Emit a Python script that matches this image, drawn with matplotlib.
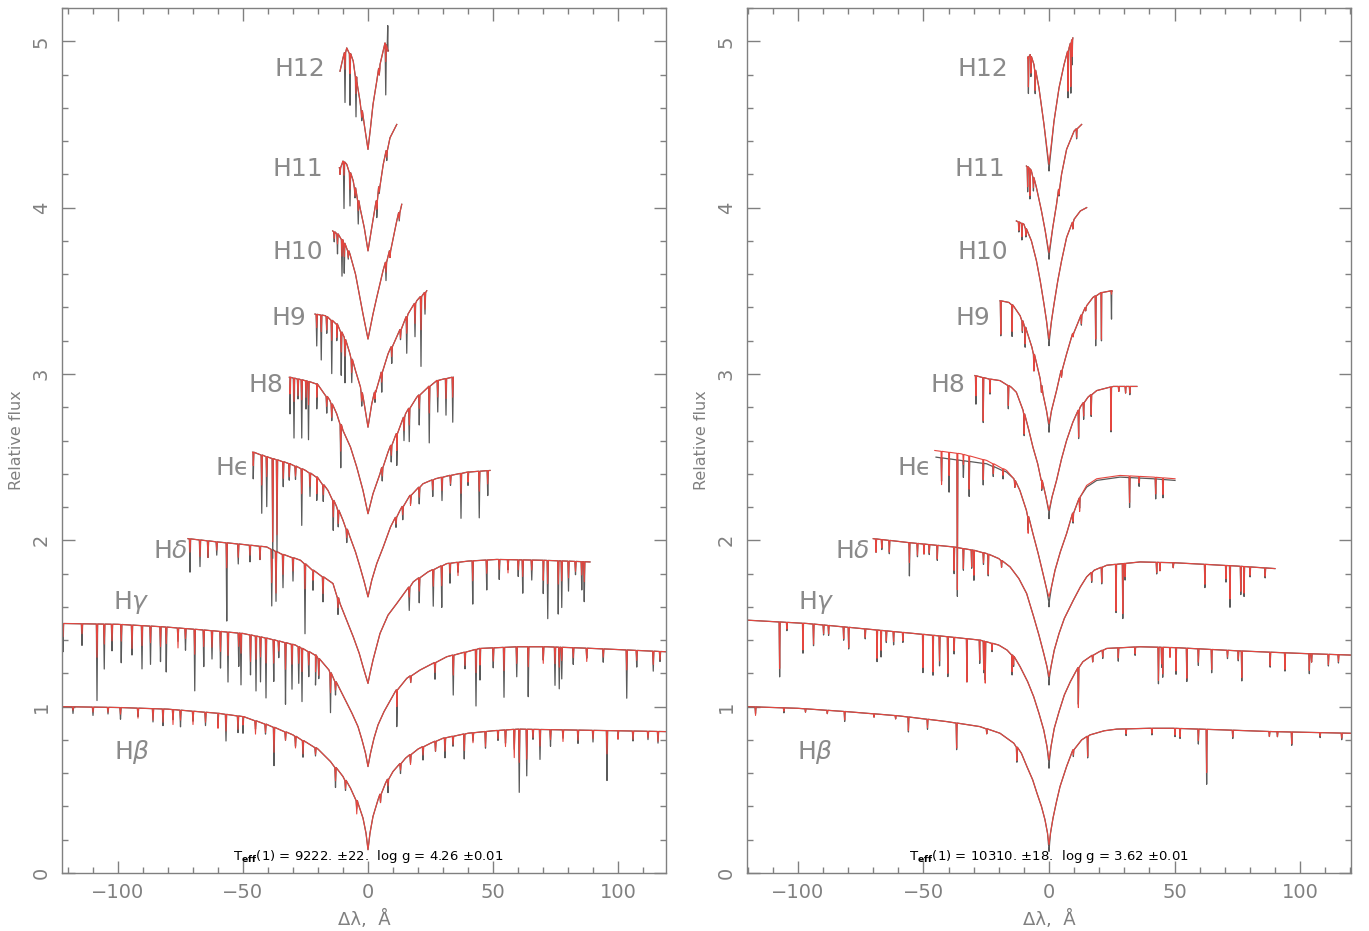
import numpy as np
import matplotlib
matplotlib.use('Agg')
import matplotlib.pyplot as plt
from matplotlib.ticker import MultipleLocator

plt.rcParams['mathtext.fontset'] = 'dejavusans'

# ---- left star: line profiles (x = delta lambda in A, y = relative flux) ----
L_HB_ENV = [(-122.4, 1.00), (-100, 0.995), (-80, 0.985), (-60, 0.96), (-50, 0.94), (-40, 0.89),
            (-30, 0.83), (-20, 0.745), (-15, 0.67), (-10, 0.58), (-7, 0.51), (-4, 0.42), (-2, 0.33),
            (-0.8, 0.24), (0, 0.14), (0.8, 0.24), (2, 0.34), (4, 0.44), (7, 0.54), (10, 0.61),
            (15, 0.69), (20, 0.745), (25, 0.78), (30, 0.81), (40, 0.84), (50, 0.855), (60, 0.865),
            (80, 0.86), (100, 0.855), (119.2, 0.85)]
L_HB_DIPS = [(-118, 0.04, 0.02), (-110, 0.05, 0.03), (-104, 0.04, 0.03), (-99, 0.07, 0.04),
             (-92, 0.05, 0.06), (-86, 0.08, 0.07), (-82, 0.10, 0.08), (-78, 0.06, 0.09),
             (-75, 0.10, 0.06), (-70, 0.06, 0.08), (-65, 0.08, 0.06), (-60, 0.07, 0.09),
             (-56.8, 0.16, 0.10), (-52, 0.10, 0.08), (-50, 0.10, 0.05), (-45, 0.05, 0.08),
             (-41, 0.06, 0.05), (-37.6, 0.23, 0.15), (-33, 0.05, 0.05), (-29, 0.06, 0.07),
             (-26, 0.10, 0.08), (-21, 0.05, 0.04), (-13, 0.12, 0.08), (-9, 0.06, 0.05),
             (-4.5, 0.05, 0.08), (5, 0.05, 0.05), (8, 0.08, 0.04), (13, 0.06, 0.04), (17, 0.05, 0.06),
             (22, 0.08, 0.05), (27, 0.06, 0.06), (30.8, 0.12, 0.08), (34, 0.06, 0.05),
             (38.5, 0.15, 0.10), (42, 0.05, 0.06), (47, 0.10, 0.09), (52, 0.06, 0.05),
             (55, 0.08, 0.10), (58.5, 0.12, 0.17), (60.5, 0.38, 0.20), (63.5, 0.28, 0.18),
             (66, 0.06, 0.05), (68.8, 0.18, 0.10), (73, 0.10, 0.06), (78, 0.05, 0.07),
             (84, 0.08, 0.06), (90, 0.07, 0.05), (95.6, 0.30, 0.14), (100, 0.05, 0.05),
             (106, 0.06, 0.05), (112, 0.05, 0.04), (116, 0.07, 0.06)]

L_HG_ENV = [(-122.4, 1.50), (-100, 1.495), (-82, 1.48), (-65, 1.46), (-50, 1.44), (-40, 1.41),
            (-29, 1.37), (-21, 1.31), (-15.6, 1.22), (-10.4, 1.08), (-6.4, 0.96), (-4, 0.88),
            (-2.4, 0.80), (-1, 0.72), (0, 0.64), (1, 0.72), (2.4, 0.81), (4, 0.89), (6.4, 0.97),
            (11.5, 1.10), (15.5, 1.17), (20.8, 1.22), (31.5, 1.30), (44.8, 1.35), (60, 1.36),
            (71.5, 1.36), (90, 1.35), (119.2, 1.33)]
L_HG_DIPS = [(-122, 0.17, 0.08), (-114.4, 0.13, 0.06), (-108.4, 0.46, 0.20), (-105.5, 0.27, 0.12),
             (-102.4, 0.16, 0.10), (-98.7, 0.23, 0.10), (-94.4, 0.18, 0.14), (-90.4, 0.26, 0.12),
             (-87, 0.23, 0.10), (-83, 0.21, 0.12), (-80.7, 0.27, 0.10), (-76, 0.08, 0.12),
             (-73, 0.13, 0.06), (-69.3, 0.37, 0.15), (-65.7, 0.22, 0.10), (-62.4, 0.17, 0.10),
             (-59, 0.22, 0.12), (-56, 0.30, 0.14), (-51.7, 0.20, 0.08), (-50.8, 0.31, 0.12),
             (-47, 0.24, 0.16), (-44.8, 0.33, 0.14), (-43, 0.27, 0.12), (-40.8, 0.36, 0.15),
             (-37.7, 0.25, 0.14), (-35.7, 0.10, 0.06), (-33, 0.37, 0.16), (-30.4, 0.27, 0.12),
             (-27.7, 0.22, 0.10), (-26.4, 0.32, 0.14), (-23.7, 0.15, 0.08), (-21, 0.18, 0.10),
             (-19.7, 0.12, 0.10), (-15, 0.24, 0.12), (-13, 0.08, 0.05), (11.5, 0.22, 0.10),
             (17.1, 0.04, 0.04), (26.8, 0.10, 0.06), (34.1, 0.24, 0.12), (38.8, 0.10, 0.08),
             (43.2, 0.34, 0.14), (44.8, 0.19, 0.10), (50.1, 0.12, 0.08), (54.4, 0.30, 0.14),
             (59.5, 0.18, 0.10), (64.1, 0.30, 0.12), (70.1, 0.08, 0.10), (74.8, 0.23, 0.10),
             (76.5, 0.25, 0.12), (77.5, 0.19, 0.08), (82.1, 0.10, 0.06), (87.5, 0.06, 0.08),
             (94.1, 0.08, 0.05), (103.5, 0.29, 0.12), (107.5, 0.10, 0.06), (114.1, 0.12, 0.08),
             (116.8, 0.06, 0.05)]

L_HD_ENV = [(-72, 2.01), (-60, 1.99), (-50, 1.975), (-40.5, 1.96), (-35, 1.92), (-27, 1.88),
            (-22, 1.82), (-14, 1.74), (-11.2, 1.62), (-8, 1.50), (-5.9, 1.42), (-3.5, 1.32),
            (-2, 1.24), (-0.8, 1.18), (0, 1.14), (0.8, 1.20), (2, 1.28), (4.8, 1.44), (8, 1.55),
            (11.5, 1.62), (18.1, 1.75), (24, 1.81), (31.5, 1.86), (40, 1.875), (51.5, 1.885),
            (70, 1.88), (88.8, 1.87)]
L_HD_DIPS = [(-71.2, 0.20, 0.08), (-67.2, 0.16, 0.10), (-64, 0.10, 0.10), (-60.5, 0.08, 0.05),
             (-56.5, 0.47, 0.15), (-51.9, 0.12, 0.08), (-47.2, 0.10, 0.06), (-43.2, 0.08, 0.08),
             (-38.5, 0.34, 0.20), (-36.8, 0.30, 0.25), (-34, 0.20, 0.12), (-30, 0.14, 0.08),
             (-25.2, 0.42, 0.15), (-22, 0.12, 0.06), (-18, 0.15, 0.10), (-12, 0.10, 0.06),
             (16.5, 0.14, 0.06), (20.5, 0.15, 0.08), (26.1, 0.22, 0.10), (29.5, 0.25, 0.12),
             (32.8, 0.12, 0.06), (36, 0.06, 0.08), (41.9, 0.26, 0.12), (47.5, 0.18, 0.08),
             (52.5, 0.12, 0.06), (56, 0.06, 0.08), (60.1, 0.10, 0.06), (61.9, 0.20, 0.10),
             (65.5, 0.12, 0.06), (70.1, 0.20, 0.12), (71.9, 0.35, 0.14), (76.1, 0.32, 0.14),
             (77.5, 0.28, 0.12), (80.2, 0.18, 0.10), (83, 0.08, 0.06), (85.5, 0.17, 0.08),
             (86.5, 0.24, 0.12)]

L_HE_ENV = [(-46, 2.53), (-40, 2.50), (-31.2, 2.46), (-25, 2.42), (-20.5, 2.38), (-16, 2.30),
            (-12.5, 2.20), (-10, 2.12), (-7.2, 2.02), (-5, 1.93), (-3.2, 1.84), (-1.5, 1.75),
            (0, 1.66), (1.5, 1.76), (3.5, 1.86), (6.1, 1.96), (9, 2.08), (12.8, 2.18), (17, 2.27),
            (22, 2.34), (27, 2.37), (32.8, 2.39), (40, 2.41), (48.8, 2.42)]
L_HE_DIPS = [(-45.9, 0.16, 0.08), (-42.5, 0.35, 0.18), (-40.5, 0.30, 0.12), (-38.1, 0.60, 0.50),
             (-36.4, 0.55, 0.45), (-33.9, 0.15, 0.10), (-31.5, 0.10, 0.08), (-29, 0.08, 0.06),
             (-26.5, 0.34, 0.15), (-23.2, 0.14, 0.08), (-20.5, 0.14, 0.10), (-17.9, 0.10, 0.06),
             (-13.9, 0.18, 0.10), (-11.9, 0.10, 0.08), (-8.5, 0.08, 0.05), (11.2, 0.06, 0.04),
             (13.9, 0.08, 0.05), (17, 0.05, 0.06), (20.5, 0.10, 0.06), (25.9, 0.10, 0.06),
             (29.6, 0.14, 0.08), (33, 0.06, 0.05), (37.2, 0.27, 0.12), (40, 0.08, 0.06),
             (44.5, 0.28, 0.12), (47.9, 0.15, 0.08)]

L_H8_ENV = [(-31.2, 2.98), (-25, 2.96), (-20.5, 2.94), (-15.2, 2.84), (-12.5, 2.76), (-10, 2.66),
            (-7, 2.56), (-4.5, 2.44), (-2, 2.30), (0, 2.16), (2, 2.28), (4.8, 2.40), (8, 2.53),
            (11.5, 2.64), (15, 2.76), (19.5, 2.86), (24, 2.92), (27.5, 2.96), (33.5, 2.98)]
L_H8_DIPS = [(-31.2, 0.22, 0.10), (-29.6, 0.36, 0.14), (-28, 0.12, 0.10), (-26.5, 0.35, 0.12),
             (-24.8, 0.17, 0.10), (-23.8, 0.35, 0.14), (-20.5, 0.15, 0.08), (-16.5, 0.10, 0.06),
             (-14.5, 0.10, 0.08), (-10.9, 0.26, 0.16), (5.7, 0.08, 0.05), (9.3, 0.10, 0.06),
             (11.5, 0.19, 0.10), (14.4, 0.14, 0.08), (16.5, 0.20, 0.10), (20.5, 0.18, 0.08),
             (24.5, 0.34, 0.16), (27.9, 0.19, 0.10), (31.2, 0.22, 0.12), (33.9, 0.27, 0.12)]

L_H9_ENV = [(-21.2, 3.36), (-17, 3.35), (-12.5, 3.30), (-9.5, 3.22), (-7.2, 3.12), (-5, 3.02),
            (-3, 2.92), (-1.5, 2.82), (0, 2.68), (1.5, 2.82), (3, 2.90), (4.8, 2.98), (8, 3.12),
            (12.8, 3.26), (16, 3.36), (19.5, 3.44), (23.5, 3.50)]
L_H9_DIPS = [(-20.5, 0.19, 0.08), (-18.7, 0.27, 0.10), (-16.5, 0.10, 0.08), (-14.5, 0.32, 0.12),
             (-12.5, 0.10, 0.08), (-10.7, 0.26, 0.12), (-9.2, 0.26, 0.10), (-6.5, 0.14, 0.08),
             (-2.5, 0.08, 0.05), (2.8, 0.06, 0.04), (5.5, 0.12, 0.06), (9.5, 0.10, 0.06),
             (13, 0.06, 0.05), (15.5, 0.22, 0.10), (18.8, 0.20, 0.12), (21.2, 0.42, 0.20),
             (22.8, 0.13, 0.10)]

L_H10_ENV = [(-14.1, 3.86), (-12, 3.84), (-10, 3.80), (-7.2, 3.72), (-5, 3.60), (-3.5, 3.48),
             (-2, 3.36), (0, 3.21), (2, 3.36), (3.5, 3.46), (6, 3.62), (8.8, 3.74), (11.5, 3.92),
             (13.5, 4.02)]
L_H10_DIPS = [(-13.5, 0.06, 0.04), (-12.2, 0.12, 0.06), (-10.4, 0.22, 0.10), (-9.5, 0.18, 0.08),
              (-7.9, 0.05, 0.04), (7.2, 0.11, 0.06), (8.8, 0.04, 0.04), (12.5, 0.05, 0.04)]

L_H11_ENV = [(-11.2, 4.24), (-10, 4.28), (-8.5, 4.26), (-5.9, 4.16), (-3.2, 4.00), (-1.5, 3.88),
             (0, 3.74), (1.5, 3.88), (3.5, 4.04), (6.1, 4.26), (8.8, 4.42), (11.5, 4.50)]
L_H11_DIPS = [(-11.2, 0.04, 0.04), (-9.6, 0.28, 0.08), (-7.2, 0.20, 0.10), (-5.2, 0.06, 0.05),
              (-3.9, 0.14, 0.06), (3.5, 0.10, 0.05), (4.5, 0.04, 0.03), (7.5, 0.06, 0.04)]

L_H12_ENV = [(-11.2, 4.82), (-10, 4.90), (-8.5, 4.96), (-7, 4.92), (-5.9, 4.88), (-4.5, 4.76),
             (-3.2, 4.64), (-1.5, 4.50), (0, 4.35), (1, 4.48), (2, 4.62), (3.5, 4.76), (4.8, 4.86),
             (6.8, 4.99), (8, 4.94)]
L_H12_DIPS = [(-9.2, 0.30, 0.10), (-7.2, 0.31, 0.12), (-4.8, 0.24, 0.10), (-2.5, 0.06, 0.04),
              (4.5, 0.04, 0.04), (7.1, 0.30, 0.10), (7.9, -0.15, 0.0)]

# ---- right star ----
R_HB_ENV = [(-120.3, 1.00), (-100, 0.99), (-80.5, 0.97), (-60, 0.945), (-40.6, 0.91), (-27.5, 0.88),
            (-19.5, 0.84), (-14, 0.78), (-11, 0.72), (-8.8, 0.64), (-6.5, 0.56), (-4.8, 0.48),
            (-3, 0.40), (-1.6, 0.32), (-0.6, 0.24), (0, 0.17), (0.6, 0.24), (1.6, 0.33), (3, 0.43),
            (4.4, 0.52), (7, 0.64), (9.7, 0.74), (13, 0.80), (16.3, 0.83), (22, 0.855), (27, 0.865),
            (40, 0.87), (49.5, 0.87), (70, 0.86), (89, 0.85), (120.3, 0.84)]
R_HB_DIPS = [(-116.9, 0.04, 0.05), (-105.6, 0.03, 0.02), (-97, 0.02, 0.02), (-88.3, 0.02, 0.02),
             (-81.4, 0.06, 0.05), (-69.7, 0.02, 0.02), (-61.1, 0.02, 0.02), (-56, 0.09, 0.08),
             (-48.4, 0.06, 0.05), (-36.8, 0.16, 0.15), (-24.8, 0.03, 0.03), (-12.8, 0.09, 0.08),
             (0, 0.04, 0.0), (9.7, 0.04, 0.03), (15.4, 0.13, 0.12), (30.7, 0.04, 0.03),
             (41, 0.04, 0.03), (50.2, 0.05, 0.04), (52.2, 0.06, 0.05), (59.5, 0.09, 0.07),
             (62.8, 0.33, 0.26), (73.2, 0.05, 0.04), (87.8, 0.03, 0.03), (91, 0.03, 0.03),
             (96.7, 0.08, 0.07), (108, 0.03, 0.02), (116.6, 0.04, 0.03)]

R_HG_ENV = [(-120.3, 1.52), (-96.4, 1.50), (-75, 1.47), (-53.9, 1.44), (-40, 1.42), (-27.5, 1.40),
            (-20, 1.37), (-16.7, 1.34), (-14, 1.30), (-11.5, 1.24), (-8.5, 1.15), (-6.1, 1.06),
            (-4, 0.96), (-2.1, 0.86), (-0.8, 0.76), (0, 0.68), (0.8, 0.76), (2.1, 0.87), (4, 0.97),
            (6.1, 1.07), (8.5, 1.15), (11, 1.22), (13.5, 1.27), (16.3, 1.30), (20, 1.33),
            (23, 1.35), (36.3, 1.36), (50, 1.355), (76, 1.335), (100, 1.32), (120.3, 1.31)]
R_HG_DIPS = [(-107.3, 0.33, 0.28), (-104.4, 0.05, 0.04), (-98, 0.18, 0.16), (-93.8, 0.13, 0.12),
             (-89.8, 0.06, 0.05), (-87.8, 0.06, 0.05), (-81.8, 0.08, 0.07), (-79.8, 0.13, 0.12),
             (-73.2, 0.06, 0.05), (-68.5, 0.19, 0.17), (-66.9, 0.16, 0.12), (-64.8, 0.07, 0.06),
             (-61.9, 0.08, 0.06), (-58.2, 0.06, 0.05), (-50.2, 0.23, 0.20), (-46.2, 0.24, 0.22),
             (-43.6, 0.18, 0.15), (-40.3, 0.24, 0.22), (-37.8, 0.10, 0.08), (-32.7, 0.26, 0.26),
             (-27.6, 0.14, 0.12), (-26, 0.19, 0.17), (-25.4, 0.23, 0.25), (-22.7, 0.05, 0.04),
             (-14.7, 0.12, 0.10), (-14.1, 0.06, 0.05), (0, 0.05, 0.0), (11.7, 0.22, 0.24),
             (17.4, 0.04, 0.04), (21.4, 0.05, 0.04), (27.6, 0.08, 0.06), (34.3, 0.05, 0.04),
             (43.6, 0.22, 0.20), (44.9, 0.12, 0.10), (45.3, 0.18, 0.16), (48.2, 0.03, 0.06),
             (50.6, 0.16, 0.14), (54.9, 0.20, 0.18), (59.5, 0.10, 0.08), (64.8, 0.14, 0.12),
             (71.1, 0.05, 0.04), (75.4, 0.06, 0.05), (76.8, 0.18, 0.16), (88.1, 0.09, 0.08),
             (94, 0.11, 0.10), (103.7, 0.12, 0.10), (104.6, 0.05, 0.05), (111.3, 0.07, 0.06),
             (115.3, 0.05, 0.04)]

R_HD_ENV = [(-70, 2.01), (-55, 1.985), (-38, 1.96), (-30, 1.94), (-24.8, 1.92), (-20, 1.89),
            (-15.5, 1.84), (-12, 1.77), (-8.9, 1.68), (-6.1, 1.54), (-4, 1.43), (-2.1, 1.32),
            (-0.8, 1.24), (0, 1.18), (0.8, 1.24), (2.1, 1.34), (4, 1.44), (6.1, 1.53), (9.7, 1.64),
            (12.5, 1.72), (15, 1.78), (18, 1.82), (23, 1.85), (36.3, 1.87), (50, 1.865),
            (62.8, 1.855), (75, 1.845), (90, 1.83)]
R_HD_DIPS = [(-68.9, 0.08, 0.08), (-66.6, 0.06, 0.05), (-63.6, 0.08, 0.07), (-55.6, 0.20, 0.12),
             (-52.4, 0.08, 0.07), (-49.8, 0.06, 0.06), (-47.7, 0.06, 0.05), (-44.5, 0.09, 0.08),
             (-37.8, 0.16, 0.14), (-34.1, 0.13, 0.12), (-30.8, 0.11, 0.10), (-29.9, 0.18, 0.15),
             (-26.1, 0.07, 0.06), (-24.2, 0.13, 0.12), (-18.9, 0.04, 0.04), (0, 0.05, 0.0),
             (17, 0.06, 0.05), (21, 0.10, 0.09), (26.7, 0.29, 0.28), (29.4, 0.33, 0.30),
             (30.3, 0.10, 0.08), (42.9, 0.07, 0.06), (44.2, 0.05, 0.05), (49.5, 0.03, 0.03),
             (62.1, 0.14, 0.12), (70.5, 0.10, 0.08), (72.1, 0.25, 0.20), (76.4, 0.17, 0.15),
             (77.7, 0.18, 0.16), (80.1, 0.06, 0.05), (86.1, 0.06, 0.05)]

R_HE_ENV = [(-45, 2.50), (-35, 2.48), (-24.8, 2.46), (-16.9, 2.41), (-14, 2.37), (-11.6, 2.30),
            (-9, 2.18), (-6.4, 2.04), (-4.3, 1.92), (-2.4, 1.80), (-1, 1.71), (0, 1.64), (1, 1.72),
            (2.4, 1.82), (4.5, 1.93), (7, 2.04), (9.5, 2.16), (12.4, 2.26), (15, 2.32), (19, 2.36),
            (28.3, 2.38), (41.5, 2.37), (50.2, 2.36)]
R_HE_MOD_ENV = [(-45.5, 2.54), (-35, 2.52), (-24.8, 2.48), (-16.9, 2.42), (-14, 2.37), (-11.6, 2.30),
                (-9, 2.18), (-6.4, 2.04), (-4.3, 1.92), (-2.4, 1.80), (-1, 1.71), (0, 1.66), (1, 1.72),
                (2.4, 1.82), (4.5, 1.93), (7, 2.04), (9.5, 2.16), (12.4, 2.26), (15, 2.33), (19, 2.37),
                (28.3, 2.39), (41.5, 2.38), (50.2, 2.37)]
R_HE_DIPS = [(-42.8, 0.14, 0.20), (-39.8, 0.20, 0.14), (-36.5, 0.82, 0.82), (-34.1, 0.10, 0.06),
             (-31.8, 0.21, 0.20), (-26.2, 0.13, 0.12), (-22.2, 0.06, 0.06), (-18.3, 0.05, 0.04),
             (-13.6, 0.04, 0.04), (-8.3, 0.08, 0.10), (0, 0.04, 0.0), (9.6, 0.06, 0.05),
             (12.2, 0.06, 0.08), (32.1, 0.18, 0.16), (35.9, 0.05, 0.04), (42.5, 0.12, 0.10),
             (45.4, 0.11, 0.10)]

R_H8_ENV = [(-29.5, 2.99), (-24, 2.97), (-19.5, 2.96), (-15, 2.92), (-13, 2.89), (-10.3, 2.78),
            (-8, 2.66), (-6.4, 2.56), (-4.5, 2.46), (-2.9, 2.36), (-1.2, 2.26), (0, 2.18),
            (1.2, 2.26), (3, 2.36), (5, 2.49), (7, 2.60), (9.5, 2.71), (12.4, 2.80), (15.5, 2.86),
            (19, 2.90), (25.6, 2.925), (35, 2.925)]
R_H8_DIPS = [(-29.1, 0.17, 0.12), (-26.2, 0.27, 0.26), (-23.5, 0.09, 0.08), (-16.2, 0.14, 0.12),
             (-9.9, 0.13, 0.12), (-2.9, 0.06, 0.05), (0, 0.05, 0.0), (11.8, 0.17, 0.16),
             (13.8, 0.10, 0.08), (16.8, 0.13, 0.12), (24.7, 0.27, 0.26), (27.8, 0.03, 0.03),
             (30.5, 0.04, 0.04), (32.2, 0.05, 0.04)]

R_H9_ENV = [(-19.5, 3.44), (-16, 3.43), (-14.2, 3.41), (-11.5, 3.35), (-8.9, 3.26), (-6.8, 3.16),
            (-4.9, 3.06), (-3.5, 2.97), (-2.4, 2.88), (-1, 2.78), (0, 2.70), (1, 2.78), (3, 2.90),
            (5, 3.02), (7, 3.12), (9.5, 3.24), (12.4, 3.34), (15, 3.41), (17.5, 3.46), (21, 3.49),
            (25, 3.50)]
R_H9_DIPS = [(-19.2, 0.21, 0.20), (-14.7, 0.19, 0.16), (-10.6, 0.07, 0.06), (-9.5, 0.12, 0.10),
             (-6, 0.10, 0.10), (-3, 0.04, 0.04), (0, 0.05, 0.0), (5, 0.03, 0.04), (9.6, 0.02, 0.02),
             (12.9, 0.06, 0.05), (14.6, 0.02, 0.02), (18.6, 0.30, 0.26), (20.9, 0.29, 0.28),
             (24.9, 0.17, 0.02)]

R_H10_ENV = [(-13, 3.92), (-10, 3.90), (-7, 3.80), (-5, 3.68), (-3.5, 3.56), (-2, 3.42), (-1, 3.32),
             (0, 3.21), (1, 3.32), (2, 3.42), (3.5, 3.56), (5, 3.68), (7, 3.82), (10, 3.93),
             (12.5, 3.98), (15, 4.00)]
R_H10_DIPS = [(-12, 0.06, 0.05), (-10.8, 0.10, 0.08), (-9.2, 0.05, 0.04), (0, 0.04, 0.0),
              (9.5, 0.04, 0.04)]

R_H11_ENV = [(-9, 4.25), (-8, 4.24), (-7, 4.22), (-5, 4.12), (-3, 3.98), (-1.5, 3.86), (0, 3.73),
             (1.5, 3.88), (3, 4.02), (5, 4.20), (7, 4.35), (10, 4.46), (13, 4.50)]
R_H11_DIPS = [(-8.5, 0.15, 0.12), (-7.6, 0.18, 0.16), (-6.2, 0.08, 0.06), (0, 0.04, 0.0),
              (4, 0.04, 0.03), (11, 0.06, 0.05)]

R_H12_ENV = [(-8.5, 4.90), (-7.5, 4.92), (-6, 4.86), (-4, 4.72), (-2, 4.50), (0, 4.26), (2, 4.52),
             (4, 4.72), (6, 4.86), (8, 4.96), (9.5, 5.02)]
R_H12_DIPS = [(-8.2, 0.22, 0.18), (-7.2, 0.12, 0.10), (-5.5, 0.14, 0.12), (0, 0.04, 0.0),
              (7.6, 0.28, 0.24), (8.7, 0.30, 0.26), (9.2, 0.15, 0.10)]

LINE_NAMES = [r'H$\beta$', r'H$\gamma$', r'H$\delta$', 'H\u03f5', 'H8', 'H9', 'H10', 'H11', 'H12']
FIT_TEXT = [r'T$_{\bf eff}$(1) = 9222. $\pm$22.  log g = 4.26 $\pm$0.01',
            r'T$_{\bf eff}$(1) = 10310. $\pm$18.  log g = 3.62 $\pm$0.01']

left_lines = [(L_HB_ENV, L_HB_ENV, L_HB_DIPS), (L_HG_ENV, L_HG_ENV, L_HG_DIPS),
              (L_HD_ENV, L_HD_ENV, L_HD_DIPS), (L_HE_ENV, L_HE_ENV, L_HE_DIPS),
              (L_H8_ENV, L_H8_ENV, L_H8_DIPS), (L_H9_ENV, L_H9_ENV, L_H9_DIPS),
              (L_H10_ENV, L_H10_ENV, L_H10_DIPS), (L_H11_ENV, L_H11_ENV, L_H11_DIPS),
              (L_H12_ENV, L_H12_ENV, L_H12_DIPS)]
right_lines = [(R_HB_ENV, R_HB_ENV, R_HB_DIPS), (R_HG_ENV, R_HG_ENV, R_HG_DIPS),
               (R_HD_ENV, R_HD_ENV, R_HD_DIPS), (R_HE_ENV, R_HE_MOD_ENV, R_HE_DIPS),
               (R_H8_ENV, R_H8_ENV, R_H8_DIPS), (R_H9_ENV, R_H9_ENV, R_H9_DIPS),
               (R_H10_ENV, R_H10_ENV, R_H10_DIPS), (R_H11_ENV, R_H11_ENV, R_H11_DIPS),
               (R_H12_ENV, R_H12_ENV, R_H12_DIPS)]


def spectrum(env, dips, col, w):
    # envelope polyline with the narrow absorption lines cut into it
    ex = np.array([p[0] for p in env])
    ey = np.array([p[1] for p in env])
    xs, ys = list(ex), list(ey)
    for d in dips:
        if d[col] == 0:
            continue
        base = np.interp(d[0], ex, ey)
        xs += [d[0] - w, d[0], d[0] + w]
        ys += [base, base - d[col], base]
    order = np.argsort(xs, kind='stable')
    return np.array(xs)[order], np.array(ys)[order]


GREY = '#808080'
fig = plt.figure(figsize=(13.69, 9.31), dpi=100)
ax1 = fig.add_axes([62 / 1369, 1 - 873 / 931, 604 / 1369, 865 / 931])
ax2 = fig.add_axes([747 / 1369, 1 - 873 / 931, 604 / 1369, 865 / 931])

panels = [(ax1, left_lines, (-122.4, 119.2), 0.25,
           [-87.2, -87.2, -72, -47.2, -34, -24.8, -18, -18, -17.2]),
          (ax2, right_lines, (-120.3, 120.3), 0.2,
           [-86, -85.3, -71.3, -46.6, -33.5, -23.5, -16.3, -17.5, -16.3])]
label_y = [0.75, 1.65, 1.95, 2.45, 2.95, 3.35, 3.75, 4.25, 4.85]

for k, (ax, lines, xlim, w, lab_x) in enumerate(panels):
    for obs_env, mod_env, dips in lines:
        xo, yo = spectrum(obs_env, dips, 1, w)
        xm, ym = spectrum(mod_env, dips, 2, w)
        ax.plot(xo, yo, color='#5a5a5a', lw=0.9)
        ax.plot(xm, ym, color='#e5463f', lw=0.8)
    for name, lx, ly in zip(LINE_NAMES, lab_x, label_y):
        ax.text(lx, ly, name, ha='right', va='center_baseline', fontsize=18, color='#8a8a8a')
    ax.text(0, 0.1, FIT_TEXT[k], ha='center', va='center', fontsize=9.5, color='black')

    ax.set_xlim(*xlim)
    ax.set_ylim(0, 5.2)
    ax.xaxis.set_major_locator(MultipleLocator(50))
    ax.xaxis.set_minor_locator(MultipleLocator(10))
    ax.yaxis.set_major_locator(MultipleLocator(1))
    ax.yaxis.set_minor_locator(MultipleLocator(0.2))
    ax.tick_params(which='both', direction='in', top=True, right=True, color=GREY,
                   labelcolor=GREY, labelsize=14)
    ax.tick_params(which='major', length=9, width=1)
    ax.tick_params(which='minor', length=4.5, width=1)
    ax.tick_params(axis='x', pad=7)
    ax.tick_params(axis='y', pad=8)
    for lab in ax.get_yticklabels():
        lab.set_rotation(90)
        lab.set_va('center')
    for s in ax.spines.values():
        s.set_color(GREY)
        s.set_linewidth(1)
    ax.set_xlabel('Δλ,  Å', fontsize=13, color=GREY, labelpad=6)
    ax.set_ylabel('Relative flux', fontsize=11.5, color=GREY)
    ax.yaxis.set_label_coords(-0.063, 0.5)

fig.savefig('out.png', dpi=100)
